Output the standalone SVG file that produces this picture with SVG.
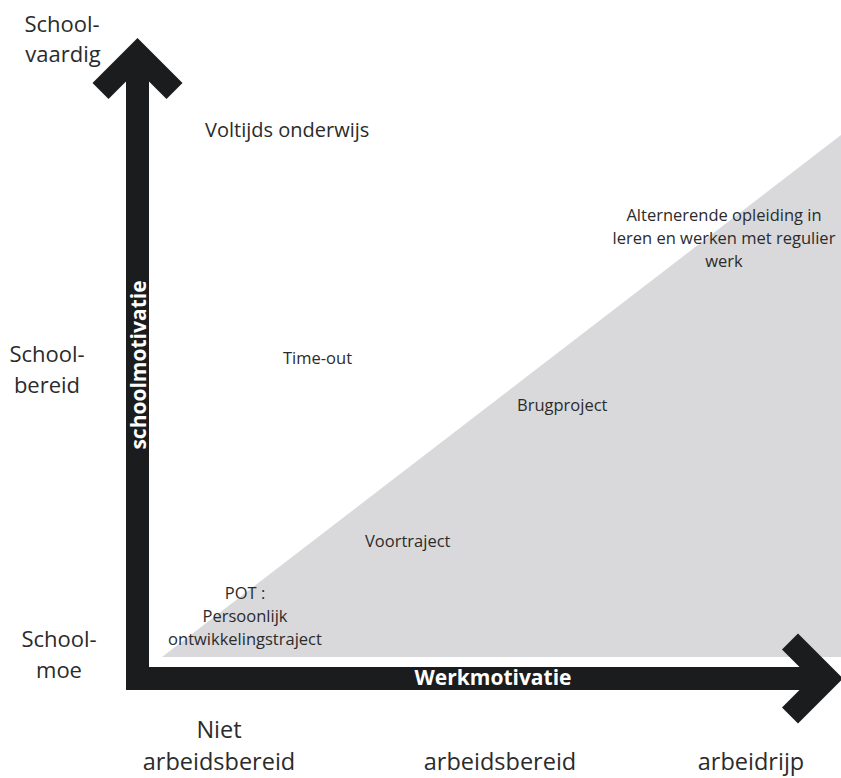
<svg xmlns="http://www.w3.org/2000/svg" width="841" height="778" viewBox="0 0 841 778">
<style>
.t{font-family:"Open Sans","Noto Sans","Liberation Sans",sans-serif;fill:#2b2b2b}
.s{font-size:16.5px}
.m{font-size:20px}
.l{font-size:22px}
.b{font-size:23.5px}
.w{font-family:"Open Sans","Noto Sans","Liberation Sans",sans-serif;font-weight:bold;fill:#ffffff;font-size:21px}
</style>
<rect width="841" height="778" fill="#ffffff"/>
<polygon id="zone" points="162,657 841,135 841,657" fill="#d9d9db"/>
<g id="axes">
<path d="M137.5,38 L182.5,83 L166.5,99 L149,81.5 L149,667 L799.5,667 L782,649.5 L798,633.5 L843,678.5 L798,723.5 L782,707.5 L799.5,690 L126,690 L126,81.5 L108.5,99 L92.5,83 Z" fill="#1a1c1e"/>
<text class="w" transform="translate(146,365) rotate(-90)" text-anchor="middle">schoolmotivatie</text>
<text class="w" x="493" y="685" text-anchor="middle">Werkmotivatie</text>
</g>
<g id="y-labels" class="t l" text-anchor="middle">
<text x="62" y="32">School-</text><text x="63" y="62">vaardig</text>
<text x="47" y="362">School-</text><text x="47" y="393">bereid</text>
<text x="59" y="647">School-</text><text x="59" y="678">moe</text>
</g>
<g id="x-labels" class="t b" text-anchor="middle">
<text x="219" y="738">Niet</text><text x="219" y="770">arbeidsbereid</text>
<text x="500" y="770">arbeidsbereid</text>
<text x="751" y="770">arbeidrijp</text>
</g>
<g id="voltijds"><text class="t m" x="205" y="137">Voltijds onderwijs</text></g>
<g id="alternerende" class="t s" text-anchor="middle">
<text x="724" y="221">Alternerende opleiding in</text>
<text x="724" y="244">leren en werken met regulier</text>
<text x="724" y="267">werk</text>
</g>
<g id="timeout"><text class="t s" x="283" y="364">Time-out</text></g>
<g id="brugproject"><text class="t s" x="517" y="411">Brugproject</text></g>
<g id="voortraject"><text class="t s" x="365" y="547">Voortraject</text></g>
<g id="pot" class="t s" text-anchor="middle">
<text x="245" y="599">POT :</text>
<text x="245" y="622">Persoonlijk</text>
<text x="245" y="645">ontwikkelingstraject</text>
</g>
</svg>
